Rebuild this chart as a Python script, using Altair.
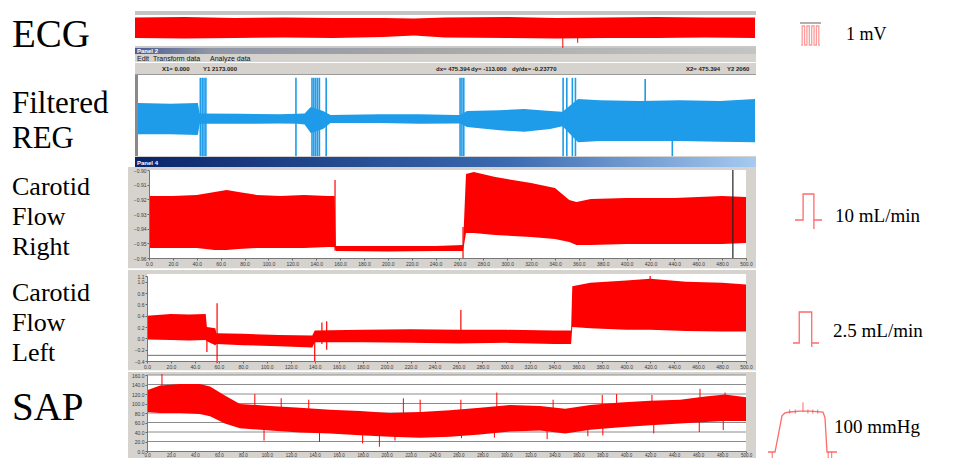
import altair as alt
import pandas as pd

# ---------------- text ----------------
ROW_LABELS = ["ECG", "Filtered\nREG", "Carotid\nFlow\nRight", "Carotid\nFlow\nLeft", "SAP"]
CAL_LABELS = ["1 mV", "10 mL/min", "2.5 mL/min", "100 mmHg"]
MENU_ITEMS = ["Edit", "Transform data", "Analyze data"]
CURSOR_TEXTS = ["X1= 0.000", "Y1 2173.000", "dx= 475.394", "dy= -113.000", "dy/dx= -0.23770", "X2= 475.394", "Y2 2060"]
WINDOW_TITLES = ["Panel 2", "Panel 4"]

# ---------------- axis ticks ----------------
TIME_TICKS = [0, 20, 40, 60, 80, 100, 120, 140, 160, 180, 200, 220, 240, 260, 280, 300,
              320, 340, 360, 380, 400, 420, 440, 460, 480, 500]
FR_TICKS = [-0.96, -0.95, -0.94, -0.93, -0.92, -0.91, -0.90]
FL_TICKS = [-0.4, -0.2, 0.0, 0.2, 0.4, 0.6, 0.8, 1.0, 1.1]
SAP_TICKS = [0, 20, 40, 60, 80, 100, 120, 140, 160]
SAP_GRID = [20, 40, 60, 80, 100, 120, 140, 160]
FL_REFLINE = [-0.3]

# ---------------- ECG (mV) ----------------
ECG_T = [0, 40, 80, 120, 160, 200, 225, 250, 300, 340, 380, 420, 460, 500]
ECG_HI = [0.74, 0.77, 0.71, 0.74, 0.71, 0.71, 0.69, 0.74, 0.77, 0.71, 0.74, 0.77, 0.74, 0.74]
ECG_LO = [-0.43, -0.46, -0.43, -0.40, -0.43, -0.37, -0.29, -0.40, -0.43, -0.46, -0.43, -0.43, -0.40, -0.43]
ECG_SPK_T = [345, 357]
ECG_SPK_LO = [-1.0, -0.70]
ECG_SPK_HI = [0.0, 0.0]

# ---------------- Filtered REG ----------------
REG_T = [0, 26, 48.5, 50, 83, 115, 129, 135, 140, 150, 156, 196, 228, 257, 261, 266.6,
         293, 313, 334, 344, 356.6, 374, 407, 439, 471.6, 500]
REG_HI = [0.40, 0.38, 0.40, 0.14, 0.13, 0.12, 0.13, 0.14, 0.30, 0.20, 0.10, 0.12, 0.12, 0.10, 0.10, 0.20,
          0.22, 0.25, 0.20, 0.18, 0.50, 0.47, 0.45, 0.47, 0.45, 0.50]
REG_LO = [-0.38, -0.38, -0.40, -0.12, -0.12, -0.11, -0.12, -0.14, -0.35, -0.25, -0.10, -0.10, -0.12, -0.11, -0.11, -0.20,
          -0.28, -0.32, -0.25, -0.18, -0.58, -0.55, -0.55, -0.55, -0.57, -0.58]
REG_SPK_T = [50.5, 52, 53.5, 55, 128, 141, 142.5, 144, 145.5, 147, 152.5, 261, 262.5, 264,
             344.5, 347.5, 352, 354.5, 411, 433]
REG_SPK_LO = [-0.93, -0.93, -0.93, -0.93, -0.93, -0.93, -0.93, -0.93, -0.93, -0.93, -0.93, -0.93, -0.93, -0.93,
              -0.93, -0.93, -0.93, -0.93, 0.0, -0.93]
REG_SPK_HI = [1.03, 1.03, 1.03, 1.03, 1.03, 1.03, 1.03, 1.03, 1.03, 1.03, 1.03, 1.03, 1.03, 1.03,
              1.03, 1.03, 1.03, 1.03, 1.0, 0.0]

# ---------------- Carotid Flow Right ----------------
FR_T = [0, 20, 40, 55, 65, 75, 90, 110, 130, 150, 155.5, 156.5, 200, 240, 263, 265.5, 272, 290,
        320, 340, 352, 358, 370, 400, 440, 480, 500]
FR_HI = [-0.9177, -0.9177, -0.9170, -0.9150, -0.9136, -0.9150, -0.9170, -0.9177, -0.9170, -0.9177, -0.9177,
         -0.9518, -0.9518, -0.9518, -0.9511, -0.9027, -0.9013, -0.9048, -0.9089, -0.9123, -0.9204, -0.9218,
         -0.9198, -0.9191, -0.9191, -0.9177, -0.9184]
FR_LO = [-0.9532, -0.9532, -0.9532, -0.9545, -0.9545, -0.9539, -0.9532, -0.9532, -0.9532, -0.9525, -0.9525,
         -0.9552, -0.9555, -0.9552, -0.9552, -0.9429, -0.9429, -0.9443, -0.9457, -0.9470, -0.9491, -0.9511,
         -0.9511, -0.9505, -0.9505, -0.9505, -0.9498]
FR_SPK_T = [155.8, 263]
FR_SPK_LO = [-0.955, -0.96]
FR_SPK_HI = [-0.9068, -0.9389]
FR_CURSOR_T = [489]

# ---------------- Carotid Flow Left ----------------
FL_T = [0, 20, 35, 49, 50, 57, 58, 80, 110, 138, 140, 180, 220, 260, 300, 340, 354, 355,
        370, 400, 420, 450, 480, 500]
FL_HI = [0.40, 0.43, 0.42, 0.43, 0.20, 0.18, 0.09, 0.08, 0.06, 0.05, 0.14, 0.15, 0.16, 0.15, 0.15, 0.14, 0.14, 0.92,
         0.98, 1.02, 1.05, 1.00, 0.98, 0.95]
FL_LO = [-0.02, -0.03, -0.04, -0.03, -0.05, -0.12, -0.10, -0.12, -0.14, -0.16, -0.07, -0.07, -0.08, -0.09, -0.08,
         -0.10, -0.10, 0.20, 0.18, 0.15, 0.15, 0.13, 0.12, 0.12]
FL_SPK_T = [50, 58.5, 140, 146, 150, 262, 420]
FL_SPK_LO = [-0.24, -0.44, -0.41, -0.10, -0.20, 0.00, 0.90]
FL_SPK_HI = [0.05, 0.62, 0.00, 0.28, 0.30, 0.50, 1.10]

# ---------------- SAP (mmHg) ----------------
SAP_T = [0, 11, 27.5, 44, 52.6, 65, 77.6, 102.7, 127.7, 152.8, 177.8, 202.8, 227.9, 252.9, 278, 303,
         328, 349, 370, 395, 420, 445, 466, 482.5, 500]
SAP_HI = [128, 138, 141, 141, 136, 117, 99, 95, 91, 87, 84, 80, 82, 86, 91, 97, 95, 89, 97, 102, 106, 108, 115, 119, 113]
SAP_LO = [82, 80, 80, 78, 73, 58, 48, 43, 39, 37, 33, 30, 28, 30, 35, 41, 43, 37, 45, 50, 54, 58, 61, 63, 63]
SAP_SPK_T = [12.5, 90, 112, 135, 214, 228, 262, 292, 339, 380, 392, 421.5, 461.6, 482.5,
             97.7, 144, 180, 194, 207, 262.5, 290, 334, 368, 380.5, 423, 461, 481]
SAP_SPK_LO = [110, 70, 65, 60, 55, 55, 55, 60, 60, 70, 75, 80, 85, 90,
              22, 19, 16, 9, 22, 27, 28, 25, 31, 33, 37, 40, 44]
SAP_SPK_HI = [162, 120, 111, 108, 111, 108, 108, 123, 108, 118, 120, 118, 131, 123,
              60, 55, 50, 50, 50, 50, 55, 55, 60, 60, 70, 75, 80]

# ---------------- calibration glyphs ----------------
CAL1_T = [0, 0.5, 0.5, 1.5, 1.5, 2.5, 2.5, 3.5, 3.5, 4.5, 4.5, 5.5, 5.5, 6.5, 6.5, 7.5, 7.5, 8]
CAL1_V = [0, 0, 1, 1, 0, 0, 1, 1, 0, 0, 1, 1, 0, 0, 1, 1, 0, 0]
CAL2_T = [0, 3, 3, 7, 7, 7, 10]
CAL2_V = [0, 0, 10, 10, -3.5, 0, 0]
CAL3_T = [0, 2.4, 2.4, 7.2, 7.2, 7.2, 10]
CAL3_V = [0, 0, 2.5, 2.5, -0.32, 0, 0]
CAL4_T = [0, 1, 2, 2.43, 3.14, 4.57, 6, 7.86, 8.14, 8.43, 9.86]
CAL4_V = [0, 0, 90.5, 97.6, 100, 102.4, 102.4, 100, 85.7, 0, 0]
CAL4_TICK_T = [0.6, 3.1, 3.9, 5.0, 5.7, 6.4, 7.1, 8.6, 9.1]
CAL4_TICK_LO = [-20, 96, 96, 100, 96, 96, 96, -21, -21]
CAL4_TICK_HI = [0, 106, 106, 124, 106, 106, 106, 0, 0]

# ---------------- style / layout ----------------
RED = "#ff0000"
BLUE = "#1e9be9"
GLYPH = "#ff5a5a"
FRAME = "#d6d3ce"
SERIF = "Liberation Serif"
SANS = "Liberation Sans"
W, H = 937, 450
M = 8  # page margin


def P(v):
    return v - M


one = pd.DataFrame({"k": [0]})


def xq(field, x0, x1, dom=(0, 500), axis=None):
    return alt.X(field, type="quantitative",
                 scale=alt.Scale(domain=list(dom), range=[P(x0), P(x1)], nice=False, zero=False),
                 axis=axis)


def yq(field, ybot, ytop, dom, axis=None):
    return alt.Y(field, type="quantitative",
                 scale=alt.Scale(domain=list(dom), range=[P(ybot), P(ytop)], nice=False, zero=False),
                 axis=axis)


def rect(x1, x2, y1, y2, color=None, fill=None):
    kw = {}
    if fill is not None:
        kw["fill"] = fill
    else:
        kw["color"] = color
    return alt.Chart(one).mark_rect(**kw).encode(
        x=alt.value(P(x1)), x2=alt.value(P(x2)), y=alt.value(P(y1)), y2=alt.value(P(y2)))


def text(s, x, y, size, font=SERIF, color="black", weight="normal", lh=None):
    kw = dict(align="left", baseline="alphabetic", font=font, fontSize=size, color=color,
              fontWeight=weight, lineBreak="\n")
    if lh is not None:
        kw["lineHeight"] = lh
    return alt.Chart(one).mark_text(**kw).encode(
        x=alt.value(P(x)), y=alt.value(P(y)), text=alt.value(s))


def x_axis(ypage, size=5, pad=1, tick=2):
    return alt.Axis(orient="bottom", offset=P(ypage) - H, values=TIME_TICKS, format=".1f",
                    labelFontSize=size, labelFont=SANS, labelColor="#3a3a3a", tickSize=tick,
                    tickColor="#666666", domainColor="#777777", title=None, grid=False,
                    zindex=2, labelFlush=False, labelOverlap=False, labelPadding=pad)


def y_axis(xpage, ticks, fmt):
    return alt.Axis(orient="left", offset=-P(xpage), values=ticks, format=fmt,
                    labelFontSize=5, labelFont=SANS, labelColor="#3a3a3a", tickSize=2,
                    tickColor="#666666", domainColor="#777777", title=None, grid=False,
                    zindex=2, labelOverlap=False, labelPadding=1)


def band(t, hi, lo, xr, yr, dom, color, xa=None, ya=None):
    df = pd.DataFrame({"t": t, "hi": hi, "lo": lo})
    return alt.Chart(df).mark_area(color=color, opacity=1, interpolate="linear").encode(
        x=xq("t", xr[0], xr[1], axis=xa), y=yq("hi", yr[0], yr[1], dom, axis=ya), y2="lo")


def spikes(t, lo, hi, xr, yr, dom, color, width=1.0, xdom=(0, 500), opacity=1.0):
    df = pd.DataFrame({"t": t, "lo": lo, "hi": hi})
    return alt.Chart(df).mark_rule(color=color, strokeWidth=width, opacity=opacity).encode(
        x=xq("t", xr[0], xr[1], dom=xdom), y=yq("lo", yr[0], yr[1], dom), y2="hi")


def hlines(vals, xr, yr, dom, color):
    df = pd.DataFrame({"v": vals})
    return alt.Chart(df).mark_rule(color=color, strokeWidth=1).encode(
        y=yq("v", yr[0], yr[1], dom), x=alt.value(P(xr[0])), x2=alt.value(P(xr[1])))


def glyph(t, v, xr, yr, xdom, ydom, opacity=0.9):
    df = pd.DataFrame({"t": t, "v": v, "i": list(range(len(t)))})
    return alt.Chart(df).mark_line(color=GLYPH, strokeWidth=1.3, opacity=opacity).encode(
        x=xq("t", xr[0], xr[1], dom=xdom), y=yq("v", yr[0], yr[1], ydom), order="i:Q")


layers = []

# ---- ECG panel ----
ECG_X, ECG_Y, ECG_D = (135, 755), (48, 13), (-1, 1)
layers += [rect(135, 756, 11, 15, "#c4c4c4"), rect(135, 756, 46, 48, "#c8c8c8")]
layers.append(band(ECG_T, ECG_HI, ECG_LO, ECG_X, ECG_Y, ECG_D, RED))
layers.append(spikes(ECG_SPK_T, ECG_SPK_LO, ECG_SPK_HI, ECG_X, ECG_Y, ECG_D, RED))

# ---- REG window ----
REG_X, REG_Y, REG_D = (138, 755), (163, 75), (-1.1, 1.1)
title_grad = alt.Gradient(gradient="linear", x1=0, x2=1, y1=0, y2=0,
                          stops=[alt.GradientStop(color="#4b5d8f", offset=0),
                                 alt.GradientStop(color="#8f96a6", offset=0.12),
                                 alt.GradientStop(color="#a8a8a8", offset=0.5),
                                 alt.GradientStop(color="#c4c4c4", offset=1)])
navy_grad = alt.Gradient(gradient="linear", x1=0, x2=1, y1=0, y2=0,
                         stops=[alt.GradientStop(color="#0a246a", offset=0),
                                alt.GradientStop(color="#3a6ab0", offset=0.6),
                                alt.GradientStop(color="#a6caf0", offset=1)])
layers += [
    rect(135, 756, 48, 157, FRAME),
    rect(135, 756, 48, 54, fill=title_grad),
    rect(135, 756, 62, 63, "#ffffff"),
    rect(135, 756, 74, 75, "#9a9a9a"),
    rect(138, 756, 75, 156, "#ffffff"),
    rect(135, 138, 75, 156, "#8a8a8a"),
    rect(135, 756, 157, 167, fill=navy_grad),
]
layers.append(text(WINDOW_TITLES[0], 137, 53, 6, font=SANS, color="white", weight="bold"))
layers.append(text(WINDOW_TITLES[1], 137, 165, 6, font=SANS, color="white", weight="bold"))
for s, x in zip(MENU_ITEMS, [137, 153, 210]):
    layers.append(text(s, x, 61, 7, font=SANS, color="#111111"))
for s, x in zip(CURSOR_TEXTS, [162, 203, 436, 471, 512, 686, 727]):
    layers.append(text(s, x, 71, 6, font=SANS, color="#222222", weight="bold"))
layers.append(band(REG_T, REG_HI, REG_LO, REG_X, REG_Y, REG_D, BLUE))
layers.append(spikes(REG_SPK_T, REG_SPK_LO, REG_SPK_HI, REG_X, REG_Y, REG_D, BLUE, width=1.6))

# ---- Carotid Flow Right ----
FR_X, FR_Y, FR_D = (149, 746), (258, 170), (-0.96, -0.90)
layers += [rect(128, 756, 167, 269, FRAME), rect(149, 746, 170, 258, "#ffffff"),
           rect(128, 756, 268, 269, "#f2f2f2")]
layers.append(band(FR_T, FR_HI, FR_LO, FR_X, FR_Y, FR_D, RED,
                   xa=x_axis(258), ya=y_axis(149, FR_TICKS, ".2f")))
layers.append(spikes(FR_SPK_T, FR_SPK_LO, FR_SPK_HI, FR_X, FR_Y, FR_D, RED, width=1.2))
layers.append(spikes(FR_CURSOR_T, [-0.96], [-0.90], FR_X, FR_Y, FR_D, "#222222", width=1.2))

# ---- Carotid Flow Left ----
FL_X, FL_Y, FL_D = (147, 746), (361, 276), (-0.4, 1.1)
layers += [rect(128, 756, 270, 371, FRAME), rect(147, 746, 274, 361, "#ffffff"),
           rect(128, 756, 370, 371, "#f2f2f2")]
layers.append(hlines(FL_REFLINE, FL_X, FL_Y, FL_D, "#6e6e6e"))
layers.append(band(FL_T, FL_HI, FL_LO, FL_X, FL_Y, FL_D, RED,
                   xa=x_axis(361), ya=y_axis(147, FL_TICKS, ".1f")))
layers.append(spikes(FL_SPK_T, FL_SPK_LO, FL_SPK_HI, FL_X, FL_Y, FL_D, RED, width=1.2))

# ---- SAP (panel squeezed a little so that its time labels stay on the page) ----
SAP_X, SAP_Y, SAP_D = (147, 746), (451, 375), (0, 160)
layers += [rect(128, 756, 372, 470, FRAME), rect(147, 746, 375, 451, "#ffffff")]
layers.append(hlines(SAP_GRID, SAP_X, SAP_Y, SAP_D, "#8c8c8c"))
layers.append(band(SAP_T, SAP_HI, SAP_LO, SAP_X, SAP_Y, SAP_D, RED,
                   xa=x_axis(451, size=4.5, pad=0, tick=1.5), ya=y_axis(147, SAP_TICKS, ".1f")))
layers.append(spikes(SAP_SPK_T, SAP_SPK_LO, SAP_SPK_HI, SAP_X, SAP_Y, SAP_D, RED, width=1.0))

# ---- row labels ----
layers.append(text(ROW_LABELS[0], 12, 47, 39))
layers.append(text(ROW_LABELS[1], 12, 113, 31, lh=35))
layers.append(text(ROW_LABELS[2], 12, 195, 26, lh=30))
layers.append(text(ROW_LABELS[3], 12, 301, 26, lh=30))
layers.append(text(ROW_LABELS[4], 12, 420, 39))

# ---- calibration glyphs ----
layers.append(rect(800, 821, 22, 24, "#b0b0b0"))
layers.append(glyph(CAL1_T, CAL1_V, (801, 820), (45, 26), (0, 8), (0, 1), opacity=0.6))
layers.append(glyph(CAL2_T, CAL2_V, (795, 822), (220, 194), (0, 10), (0, 10)))
layers.append(glyph(CAL3_T, CAL3_V, (793, 819), (343, 312), (0, 10), (0, 2.5)))
layers.append(glyph(CAL4_T, CAL4_V, (768, 838), (452, 412), (0, 10), (0, 100)))
layers.append(spikes(CAL4_TICK_T, CAL4_TICK_LO, CAL4_TICK_HI, (768, 838), (452, 412), (0, 100),
                     GLYPH, width=1.0, xdom=(0, 10), opacity=0.9))
layers.append(text(CAL_LABELS[0], 846, 40, 18))
layers.append(text(CAL_LABELS[1], 835, 222, 19))
layers.append(text(CAL_LABELS[2], 833, 337, 19))
layers.append(text(CAL_LABELS[3], 834, 433, 19))

chart = (
    alt.layer(*layers)
    .resolve_scale(x="independent", y="independent")
    .properties(width=W, height=H, padding=0, background="white",
                autosize=alt.AutoSizeParams(type="none"))
    .configure_view(stroke=None)
)

chart.save("out.html", embed_options={"renderer": "svg", "actions": False})
